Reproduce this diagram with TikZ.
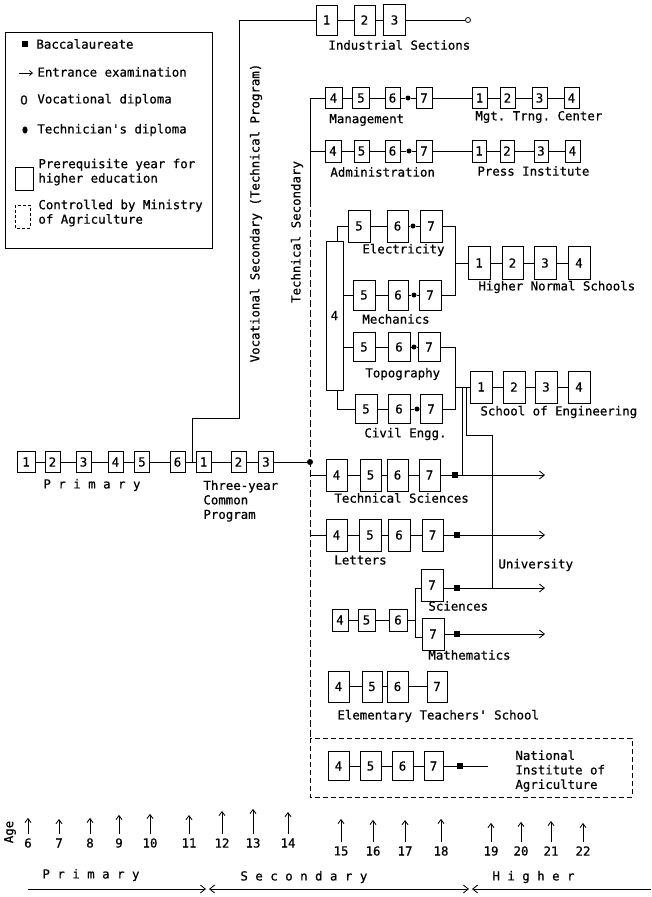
\documentclass[tikz,border=0pt]{standalone}
\usepackage{fontspec}
\setmonofont[FakeBold=0.6]{DejaVu Sans Mono}
\newfontfamily\plainzero[FakeBold=0.6]{DejaVu Sans}
\usetikzlibrary{arrows.meta,calc}
\begin{document}
\begin{tikzpicture}[x=1pt,y=-1pt,line width=0.85pt,
  every node/.style={font=\ttfamily\fontsize{12.4}{14.5}\selectfont, inner sep=0pt},
  yb/.style 2 args={draw, line width=1pt, minimum width=#1, minimum height=#2},
  lbl/.style={anchor=west},
  tdot/.style={circle, fill, minimum size=5pt},
  bac/.style={fill, minimum size=6.5pt},
  vdip/.style={circle, draw, fill=white, minimum size=5pt, line width=0.8pt},
  barb/.style={-{Straight Barb[length=5pt,width=8pt]}},
  agearr/.style={-{Straight Barb[length=4pt,width=6pt]}, line width=0.85pt},
  dline/.style={dash pattern=on 7pt off 3pt, line width=0.6pt}]
\fill[white] (0,0) rectangle (651,897);
\useasboundingbox (0,0) rectangle (651,897);

% ---------- Legend ----------
\draw[line width=1pt] (5,32) rectangle (212,248);
\node[bac] (lgb) at (25,44) {};
\node[lbl] (lgt1) at (36,44) {Baccalaureate};
\coordinate (lga1) at (19,73); \coordinate (lga2) at (33,73);
\draw[-{Straight Barb[length=3pt,width=5pt]}] (lga1) -- (lga2);
\node[lbl] (lgt2) at (37,72) {Entrance examination};
\node (lgo) at (24,100) {\plainzero 0};
\node[lbl] (lgt3) at (37,100) {Vocational diploma};
\fill (25,130) ellipse (2.6pt and 3.6pt);
\node[lbl] (lgt4) at (37,130) {Technician's diploma};
\draw[line width=1pt] (15,167) rectangle (33,190);
\node[lbl, align=left] (lgt5) at (38,172) {Prerequisite year for\\higher education};
\draw[line width=0.8pt, dash pattern=on 3pt off 2pt] (15,205) rectangle (30,228);
\node[lbl, align=left] (lgt6) at (38,213) {Controlled by Ministry\\of Agriculture};

% ---------- Primary and common program ----------
\node[yb={18}{21}] (pr1) at (26,462) {1};
\node[yb={15}{21}] (pr2) at (52.5,462) {2};
\node[yb={15}{21}] (pr3) at (83.5,462) {3};
\node[yb={15}{21}] (pr4) at (115.5,462) {4};
\node[yb={15}{21}] (pr5) at (142,462) {5};
\node[yb={15}{21}] (pr6) at (177.5,462) {6};
\node[yb={15}{21}] (cp1) at (203.5,462) {1};
\node[yb={15}{21}] (cp2) at (238.5,462) {2};
\node[yb={15}{21}] (cp3) at (266,462) {3};
\node[tdot, minimum size=6pt] (jn) at (310,462) {};
\draw (pr1) -- (pr2) -- (pr3) -- (pr4) -- (pr5) -- (pr6) -- (cp1) -- (cp2) -- (cp3) -- (jn);
\node[lbl] (prl) at (43,485) {P r i m a r y};
\node[lbl, align=left] (cpl) at (203,501) {Three-year\\Common\\Program};

% ---------- Vocational secondary ----------
\coordinate (v0) at (192,462);
\coordinate (v1) at (192,418);
\coordinate (v2) at (239,418);
\coordinate (v3) at (239,20);
\node[yb={21}{30}] (i1) at (326.5,20) {1};
\node[yb={21}{30}] (i2) at (364.5,20) {2};
\node[yb={22}{31}] (i3) at (394.5,20) {3};
\node[vdip] (ivd) at (468,20) {};
\draw (v0) -- (v1) -- (v2) -- (v3) -- (i1);
\draw (i1) -- (i2) -- (i3) -- (ivd);
\node[lbl] (il) at (328,45) {Industrial Sections};
\node[rotate=90] (vocl) at (256,213) {Vocational Secondary (Technical Program)};

% ---------- Technical secondary trunk ----------
\coordinate (t1) at (310,151);
\coordinate (tA) at (310,200);
\coordinate (tB) at (310,738);
\coordinate (t3) at (310,475);
\coordinate (t4) at (310,535);
\node[rotate=90] (tsl) at (297,232) {Technical Secondary};

% Management
\node[yb={17}{21}] (m4) at (333.5,98) {4};
\node[yb={17}{21}] (m5) at (361,98) {5};
\node[yb={15}{21}] (m6) at (392.5,98) {6};
\node[tdot] (md) at (408,98) {};
\node[yb={16}{21}] (m7) at (424,98) {7};
\node[yb={15}{21}] (mt1) at (479.5,98) {1};
\node[yb={15}{21}] (mt2) at (507.5,98) {2};
\node[yb={15}{21}] (mt3) at (539.5,98) {3};
\node[yb={15}{21}] (mt4) at (571.5,98) {4};
\draw (m4) -- (m5) -- (m6) -- (md) -- (m7) -- (mt1) -- (mt2) -- (mt3) -- (mt4);
\draw (m4.west) -| (tA);
\draw[dline] (tA) -- (tB);
\node[lbl] (ml) at (329,120) {Management};
\node[lbl] (mtl) at (475,117) {Mgt. Trng. Center};

% Administration
\node[yb={16}{22}] (a4) at (333,151) {4};
\node[yb={15}{22}] (a5) at (361.5,151) {5};
\node[yb={15}{22}] (a6) at (392.5,151) {6};
\node[tdot] (ad) at (409,151) {};
\node[yb={16}{22}] (a7) at (424,151) {7};
\node[yb={14}{22}] (p1) at (479,151) {1};
\node[yb={14}{22}] (p2) at (507,151) {2};
\node[yb={14}{22}] (p3) at (541,151) {3};
\node[yb={15}{22}] (p4) at (572.5,151) {4};
\draw (t1) -- (a4) -- (a5) -- (a6) -- (ad) -- (a7) -- (p1) -- (p2) -- (p3) -- (p4);
\node[lbl] (al) at (330,172) {Administration};
\node[lbl] (pl) at (477,171) {Press Institute};

% Common year 4 with four specialities
\node[yb={17}{149}] (tb4) at (334.5,315.5) {4};
\node[yb={22}{32}] (e5) at (359,226) {5};
\node[yb={21}{32}] (e6) at (397.5,226) {6};
\node[tdot] (ed) at (413,226) {};
\node[yb={22}{32}] (e7) at (431,226) {7};
\draw ([xshift=3pt]tb4.north) |- (e5);
\draw (e5) -- (e6) -- (ed) -- (e7);
\node[lbl] (el) at (362,250) {Electricity};

\node[yb={22}{30}] (me5) at (364,295) {5};
\node[yb={20}{30}] (me6) at (398,295) {6};
\node[tdot] (med) at (414,295) {};
\node[yb={22}{30}] (me7) at (430,295) {7};
\draw (tb4.east |- me5) -- (me5) -- (me6) -- (med) -- (me7);
\node[lbl] (mel) at (362,319) {Mechanics};

\node[yb={22}{29}] (to5) at (364,347) {5};
\node[yb={22}{29}] (to6) at (399,347) {6};
\node[tdot] (tod) at (414,347) {};
\node[yb={22}{29}] (to7) at (429,347) {7};
\draw (tb4.east |- to5) -- (to5) -- (to6) -- (tod) -- (to7);
\node[lbl] (tol) at (365,374) {Topography};

\node[yb={22}{29}] (c5) at (366,409) {5};
\node[yb={22}{29}] (c6) at (399,409) {6};
\node[tdot] (cd) at (417,409) {};
\node[yb={22}{29}] (c7) at (431,409) {7};
\draw ([xshift=3pt]tb4.south) |- (c5);
\draw (c5) -- (c6) -- (cd) -- (c7);
\node[lbl] (cl) at (364,434) {Civil Engg.};

% Higher Normal Schools
\coordinate (hb1) at (455,226);
\coordinate (hb2) at (455,295);
\coordinate (hm) at (455,263);
\node[yb={22}{33}] (h1) at (479,263) {1};
\node[yb={21}{33}] (h2) at (512.5,263) {2};
\node[yb={22}{33}] (h3) at (545,263) {3};
\node[yb={22}{33}] (h4) at (579,263) {4};
\draw (e7) -- (hb1) -- (hb2) -- (me7);
\draw (hm) -- (h1) -- (h2) -- (h3) -- (h4);
\node[lbl] (hl) at (478,287) {Higher Normal Schools};

% School of Engineering
\coordinate (sb1) at (455,347);
\coordinate (sb2) at (455,409);
\coordinate (sm) at (455,387);
\node[yb={22}{32}] (s1) at (481,387) {1};
\node[yb={22}{32}] (s2) at (514,387) {2};
\node[yb={22}{32}] (s3) at (546,387) {3};
\node[yb={22}{32}] (s4) at (579,387) {4};
\draw (to7) -- (sb1) -- (sb2) -- (c7);
\draw (sm) -- (s1) -- (s2) -- (s3) -- (s4);
\node[lbl] (sl) at (480,412) {School of Engineering};

% Technical Sciences
\node[yb={21}{32}] (ts4) at (336.5,475) {4};
\node[yb={21}{32}] (ts5) at (370.5,475) {5};
\node[yb={21}{32}] (ts6) at (397.5,475) {6};
\node[yb={21}{32}] (ts7) at (429.5,475) {7};
\coordinate (tse) at (545,475);
\draw (t3) -- (ts4) -- (ts5) -- (ts6) -- (ts7);
\draw[barb] (ts7) -- (tse);
\node[bac] (tsb) at (455,475) {};
\node[lbl] (tsl2) at (334,498) {Technical Sciences};

% University links
\coordinate (u1) at (462,387);
\coordinate (u2) at (462,475);
\coordinate (u3) at (466,387);
\coordinate (u4) at (466,435);
\coordinate (u5) at (492,435);
\coordinate (u6) at (492,588);
\draw (u1) -- (u2);
\draw (u3) -- (u4) -- (u5) -- (u6);
\node[lbl] (ul) at (498,565) {University};

% Letters
\node[yb={21}{32}] (l4) at (336.5,535) {4};
\node[yb={22}{32}] (l5) at (370,535) {5};
\node[yb={22}{32}] (l6) at (399,535) {6};
\node[yb={21}{32}] (l7) at (432.5,535) {7};
\coordinate (le) at (545,535);
\draw (t4) -- (l4) -- (l5) -- (l6) -- (l7);
\draw[barb] (l7) -- (le);
\node[bac] (lb) at (457,535) {};
\node[lbl] (ll) at (334,560) {Letters};

% Sciences / Mathematics
\node[yb={16}{22}] (sm4) at (340,620) {4};
\node[yb={17}{22}] (sm5) at (366.5,620) {5};
\node[yb={18}{22}] (sm6) at (398,620) {6};
\coordinate (bk1) at (415,588);
\coordinate (bk2) at (415,637);
\coordinate (bkm) at (415,620);
\node[yb={22}{32}] (sc7) at (432,585) {7};
\node[yb={22}{32}] (ma7) at (433,634) {7};
\coordinate (sce) at (545,588);
\coordinate (mae) at (545,634);
\draw (sm4) -- (sm5) -- (sm6) -- (bkm);
\draw (bk1) -- (bk2);
\draw (bk1) -- ([yshift=-3pt]sc7.west);
\draw (bk2) -- ([yshift=-3pt]ma7.west);
\draw[barb] ([yshift=-3pt]sc7.east) -- (sce);
\draw[barb] (ma7) -- (mae);
\node[bac] (scb) at (457,588) {};
\node[bac] (mab) at (457,634) {};
\node[lbl] (scl) at (428,606) {Sciences};
\node[lbl] (mal) at (428,655) {Mathematics};

% Elementary Teachers' School
\node[yb={21}{31}] (el4) at (338.5,686.5) {4};
\node[yb={20}{31}] (el5) at (372,686.5) {5};
\node[yb={21}{31}] (el6) at (397.5,686.5) {6};
\node[yb={20}{31}] (el7) at (437,686.5) {7};
\draw (el4) -- (el5) -- (el6) -- (el7);
\node[lbl] (etl) at (337,716) {Elementary Teachers' School};

% National Institute of Agriculture
\draw[line width=0.85pt, dash pattern=on 5pt off 3pt] (310,738) rectangle (632,797);
\node[yb={21}{29}] (ag4) at (338.5,766) {4};
\node[yb={21}{29}] (ag5) at (370.5,766) {5};
\node[yb={21}{29}] (ag6) at (402.5,766) {6};
\node[yb={19}{29}] (ag7) at (433.5,766) {7};
\coordinate (age) at (488,766);
\draw (ag4) -- (ag5) -- (ag6) -- (ag7) -- (age);
\node[bac] (agb) at (460,766) {};
\node[lbl, align=left] (agl) at (515,771) {National\\Institute of\\Agriculture};

% ---------- Age axis ----------
\node[rotate=90] (agel) at (10,832) {Age};
\foreach \n/\x/\y/\l in {6/28/843/16, 7/59/843/15, 8/90/843/16, 9/119/843/19, 10/150/843/20,
  11/189/843/19, 12/222/843/23, 13/253/843/25, 14/288/843/22,
  15/341/851/23, 16/373/851/22, 17/405/851/22, 18/441/851/23,
  19/491/851/19, 20/521/851/20, 21/551/851/21, 22/583/851/19}{
  \node (n\n) at (\x,\y) {\n};
  \draw[agearr] ([yshift=4pt]n\n.north) -- ++(0,-\l);
}

% ---------- Levels ----------
\node[lbl] (bpl) at (42,875) {P r i m a r y};
\node[lbl] (bsl) at (240,877) {S e c o n d a r y};
\node[lbl] (bhl) at (492,877) {H i g h e r};
\coordinate (b0) at (28,889);
\coordinate (b1) at (206,889);
\coordinate (b2) at (209,889);
\coordinate (b3) at (469,889);
\coordinate (b4) at (472,889);
\coordinate (b5) at (651,889);
\draw[barb] (b0) -- (b1);
\draw[{Straight Barb[length=5pt,width=8pt]}-{Straight Barb[length=5pt,width=8pt]}] (b2) -- (b3);
\draw[{Straight Barb[length=5pt,width=8pt]}-] (b4) -- (b5);
\end{tikzpicture}
\end{document}
